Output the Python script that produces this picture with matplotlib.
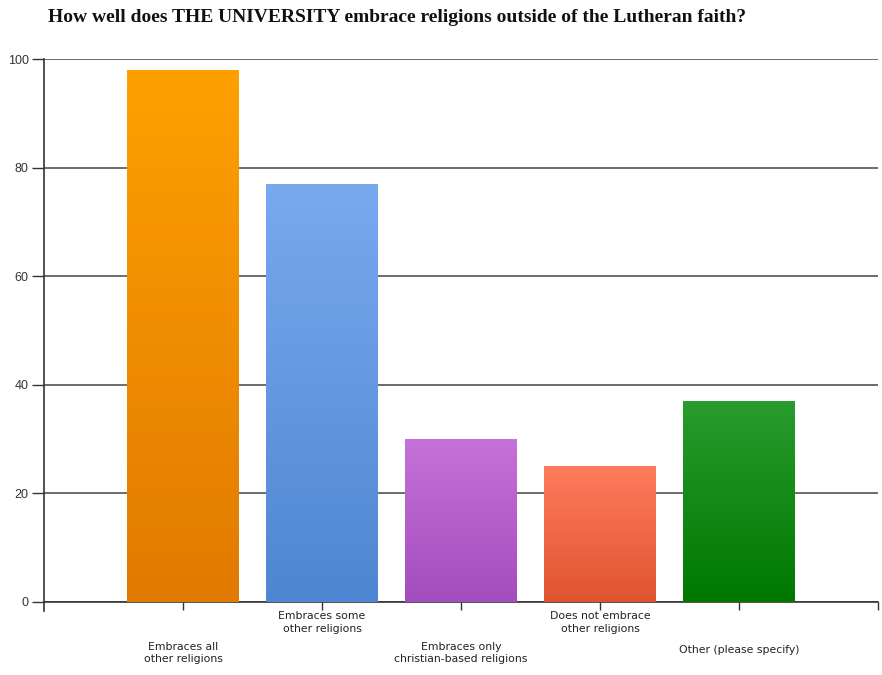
import numpy as np
import matplotlib.pyplot as plt
from matplotlib.colors import LinearSegmentedColormap

categories = ["Embraces all\nother religions", "Embraces some\nother religions",
              "Embraces only\nchristian-based religions", "Does not embrace\nother religions",
              "Other (please specify)"]
values = [98, 77, 30, 25, 37]
top_colors = ["#ffa000", "#79a9ef", "#c671d9", "#ff7b5c", "#2a9b2e"]
bottom_colors = ["#e07a00", "#4f86d1", "#a44dbe", "#e0532f", "#007800"]

fig = plt.figure(figsize=(8.82, 6.75), dpi=100)
ax = fig.add_axes([44/882, 1-602/675, 834/882, 543/675])

x = np.arange(1, len(values)+1)
width = 0.8
bars = ax.bar(x, values, width=width, color="none", zorder=3)

# vertical gradient inside each bar
grad = np.linspace(0, 1, 256).reshape(-1, 1)
for b, c1, c2 in zip(bars, top_colors, bottom_colors):
    cmap = LinearSegmentedColormap.from_list("g", [c2, c1])
    x0, y0 = b.get_x(), b.get_y()
    im = ax.imshow(grad, cmap=cmap, origin="lower", aspect="auto",
                   extent=[x0, x0 + b.get_width(), y0, y0 + b.get_height()], zorder=3)
    im.set_clip_path(b)

ax.set_xlim(0, 6)
ax.set_ylim(0, 100)
ax.set_yticks([0, 20, 40, 60, 80, 100])
ax.set_yticklabels(["0", "20", "40", "60", "80", "100"], fontsize=9, color="#333333",
                   family="Liberation Sans")
ax.grid(axis="y", color="#444444", linewidth=1.1, zorder=1)
ax.tick_params(axis="y", length=9, width=1, color="#333333", pad=2)

ax.set_xticks([1, 2, 3, 4, 5, 6])
ax.set_xticklabels([])
ax.tick_params(axis="x", length=6, width=1, color="#333333")
for i, (xi, lab) in enumerate(zip(x, categories)):
    lower = (i % 2 == 0)
    if lower:
        y = -7.3 if "\n" in lab else -8.0
    else:
        y = -1.7
    ax.text(xi, y, lab, ha="center", va="top", fontsize=7.8, color="#222222",
            family="DejaVu Sans", linespacing=1.3)

ax.spines["right"].set_visible(False)
ax.spines["top"].set_visible(False)
ax.spines["left"].set_color("#333333")
ax.spines["bottom"].set_color("#333333")
ax.spines["left"].set_bounds(-1.6, 100)
ax.spines["left"].set_linewidth(1.2)
ax.spines["bottom"].set_linewidth(1.2)

fig.text(48/882, 1-17/675, "How well does THE UNIVERSITY embrace religions outside of the Lutheran faith?",
         fontsize=14, fontweight="bold", family="Liberation Serif", va="center", ha="left",
         color="#111111")

fig.savefig("out.png", dpi=100)
